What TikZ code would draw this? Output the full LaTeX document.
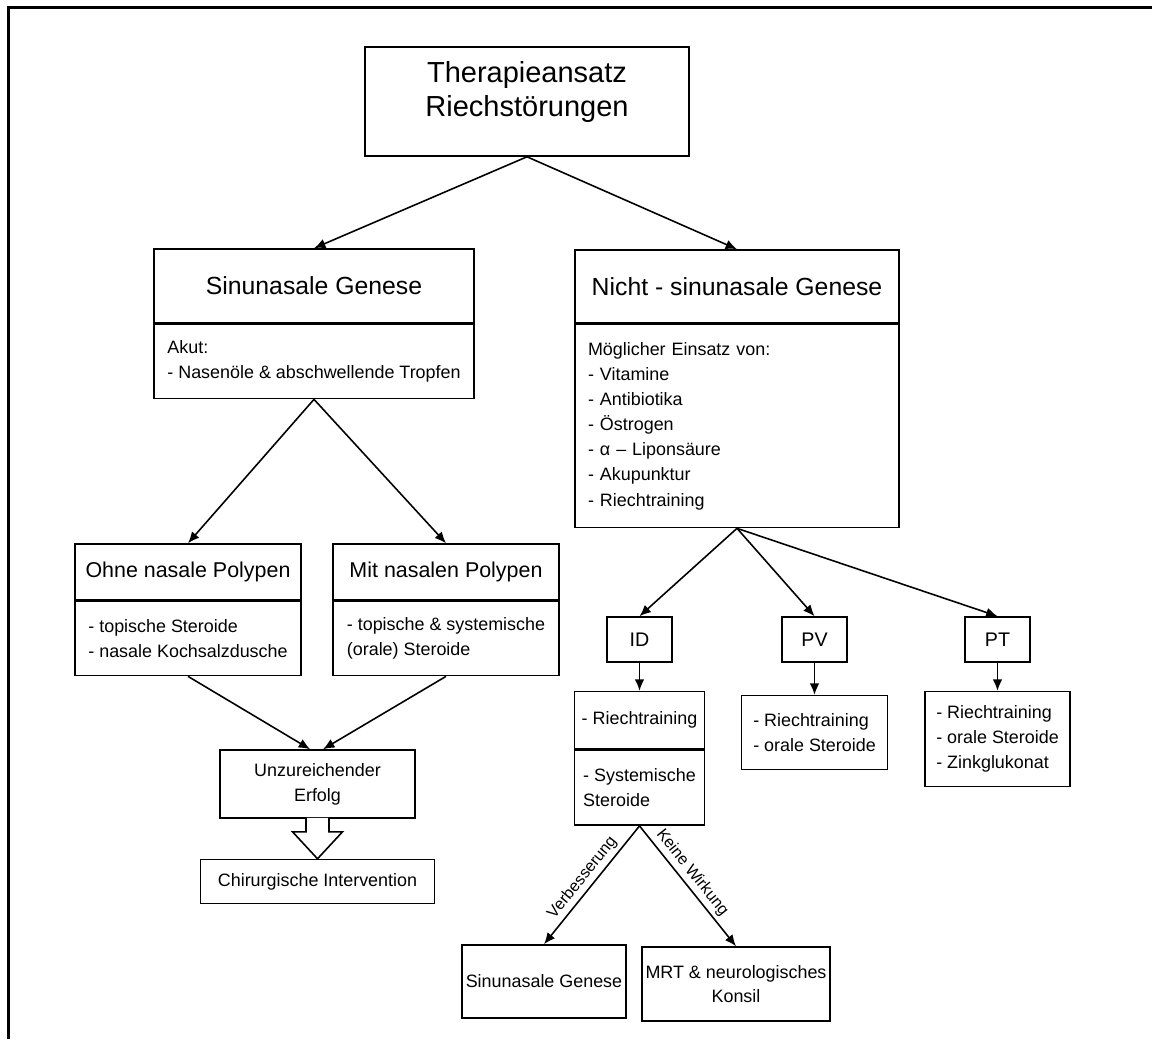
\documentclass[tikz,border=0pt]{standalone}
\usepackage{fontspec}
\setmainfont{Liberation Sans}
\usepackage{tikz}
\usetikzlibrary{arrows.meta,positioning,calc}
\tikzstyle{pfeil} = [draw, line width=0.9pt, -{Latex[length=6.5pt,width=5.5pt]}]
\tikzstyle{kasten} = [rectangle, draw, line width=0.9pt, inner sep=2pt, align=center]
\tikzstyle{kopf} = [font=\fontsize{14.1}{17}\selectfont]
\tikzstyle{mittel} = [font=\fontsize{12.2}{15}\selectfont]
\tikzstyle{klein} = [font=\fontsize{11.2}{13.5}\selectfont]
\tikzstyle{fliesstext} = [font=\fontsize{10.2}{14.3}\selectfont]
\tikzstyle{liste} = [kasten, fliesstext, align=left]
\tikzstyle{beschriftung} = [font=\fontsize{9.2}{11}\selectfont, inner sep=2pt]

\begin{document}
\begin{tikzpicture}[x=0.02cm, y=-0.02cm]
\useasboundingbox (0,0) rectangle (1152,1039);
% Rahmen
\draw[line width=1.7pt] (8.5,1039) -- (8.5,7.5) -- (1152,7.5);

% Wurzel
\node (therapie) [kasten, font=\fontsize{16.5}{19.3}\selectfont, minimum width=6.48cm, minimum height=2.18cm] at (527,101.5) {Therapieansatz\\Riechstörungen\rule[-14.2pt]{0pt}{0pt}};

% Sinunasale Genese
\node (sinu) [kasten, kopf, minimum width=6.4cm, minimum height=1.48cm] at (314,286) {Sinunasale Genese};
\node (sinuakut) [liste, below=0pt of sinu, minimum width=6.4cm, minimum height=1.48cm] {Akut:\\- Nasenöle \& abschwellende Tropfen};

% Nicht - sinunasale Genese
\node (nicht) [kasten, kopf, minimum width=6.48cm, minimum height=1.46cm] at (737,286.5) {Nicht - sinunasale Genese};
\node (nichtliste) [liste, below=0pt of nicht, text width=5.96cm, inner xsep=0.26cm, minimum height=4.06cm] {Möglicher Einsatz von:\\- Vitamine\\- Antibiotika\\- Östrogen\\- α – Liponsäure\\- Akupunktur\\- Riechtraining};

% Polypen
\node (ohne) [kasten, mittel, minimum width=4.52cm, minimum height=1.12cm] at (188,572) {Ohne nasale Polypen};
\node (ohneliste) [liste, below=0pt of ohne, minimum width=4.52cm, minimum height=1.48cm] {- topische Steroide\\- nasale Kochsalzdusche};
\node (mit) [kasten, mittel, minimum width=4.52cm, minimum height=1.12cm] at (446,572) {Mit nasalen Polypen};
\node (mitliste) [liste, below=0pt of mit, minimum width=4.52cm, minimum height=1.48cm] {- topische \& systemische\\(orale) Steroide};

\node (unzureichend) [kasten, fliesstext, minimum width=3.9cm, minimum height=1.36cm] at (317.5,784) {Unzureichender\\Erfolg};
\node (chirurgie) [kasten, fliesstext, below=0.8cm of unzureichend, minimum width=4.68cm, minimum height=0.88cm] {Chirurgische Intervention};

% ID, PV, PT
\node (id) [kasten, klein, minimum width=1.3cm, minimum height=0.9cm] at (639.5,639.5) {ID};
\node (pv) [kasten, klein, minimum width=1.3cm, minimum height=0.9cm] at (814.5,639.5) {PV};
\node (pt) [kasten, klein, minimum width=1.3cm, minimum height=0.9cm] at (997.5,639.5) {PT};

\node (idtraining) [liste, below=0.56cm of id, minimum width=2.6cm, minimum height=1.14cm] {- Riechtraining};
\node (idsteroide) [liste, below=0pt of idtraining, minimum width=2.6cm, minimum height=1.5cm] {- Systemische\\Steroide};
\node (pvliste) [liste, below=0.64cm of pv, minimum width=2.92cm, minimum height=1.48cm] {- Riechtraining\\- orale Steroide};
\node (ptliste) [liste, below=0.56cm of pt, minimum width=2.9cm, minimum height=1.9cm] {- Riechtraining\\- orale Steroide\\- Zinkglukonat};

\node (sinuzwei) [kasten, fliesstext, minimum width=3.24cm, minimum height=1.46cm] at (544,981.5) {Sinunasale Genese};
\node (mrt) [kasten, fliesstext, font=\fontsize{10.2}{13.6}\selectfont, minimum width=3.72cm, minimum height=1.48cm] at (736,984) {MRT \& neurologisches\\Konsil};

% Pfeile
\draw[pfeil] (therapie.south) -- (sinu.north);
\draw[pfeil] (therapie.south) -- (nicht.north);
\draw[pfeil] (sinuakut.south) -- (ohne.north);
\draw[pfeil] (sinuakut.south) -- (mit.north);
\draw[pfeil] (ohneliste.south) -- (unzureichend.102);
\draw[pfeil] (mitliste.south) -- (unzureichend.81);
\draw[pfeil] (nichtliste.south) -- (id.north);
\draw[pfeil] (nichtliste.south) -- (pv.north);
\draw[pfeil] (nichtliste.south) -- (pt.north);
\draw[pfeil] (id) -- (idtraining);
\draw[pfeil] (pv) -- (pvliste);
\draw[pfeil] (pt) -- (ptliste);
\draw[pfeil] (idsteroide.south) -- node[beschriftung, above, sloped] {Verbesserung} (sinuzwei.north);
\draw[pfeil] (idsteroide.south) -- node[beschriftung, above, sloped, pos=0.45] {Keine Wirkung} (mrt.north);

% Blockpfeil
\draw[line width=0.9pt, fill=white] ($(unzureichend.south)+(-11.5,-1)$) -- ++(0,14) -- ++(-13.5,0) -- (chirurgie.north) -- ($(unzureichend.south)+(25,13)$) -- ++(-13.5,0) -- ++(0,-14);
\end{tikzpicture}
\end{document}
